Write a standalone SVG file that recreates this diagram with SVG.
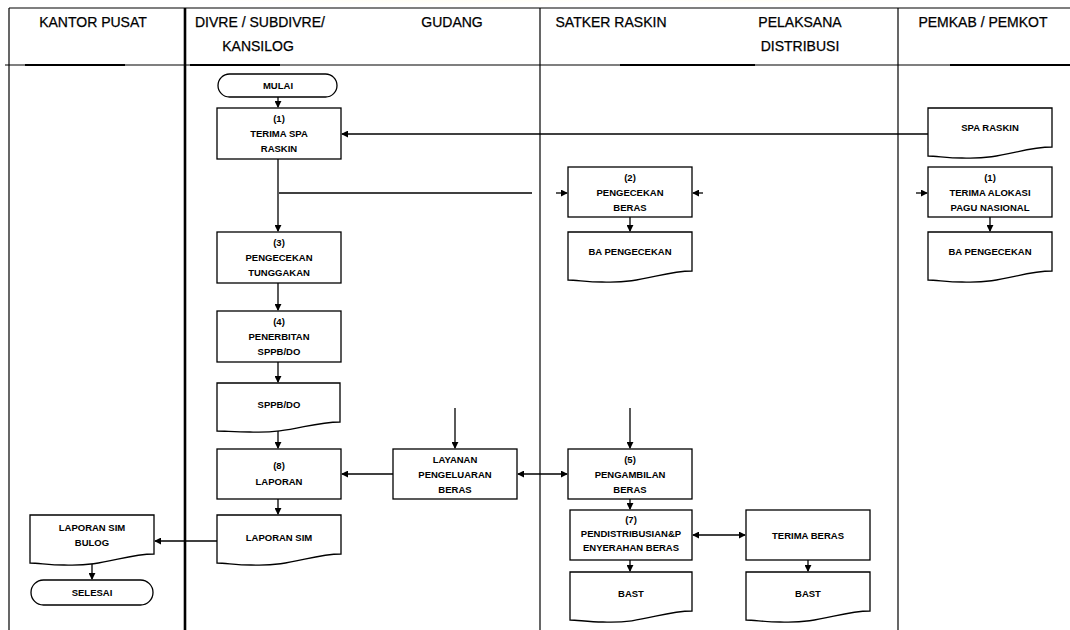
<svg xmlns="http://www.w3.org/2000/svg" width="1070" height="630" viewBox="0 0 1070 630">
<defs>
<radialGradient id="wm" cx="0.5" cy="0" r="0.6">
<stop offset="0" stop-color="#ffe94d" stop-opacity="0.75"/>
<stop offset="1" stop-color="#fff6b0" stop-opacity="0"/>
</radialGradient>
<marker id="ah" viewBox="0 0 8 8" refX="7" refY="4" markerWidth="7" markerHeight="7" orient="auto-start-reverse" markerUnits="userSpaceOnUse">
<path d="M0,0 L8,4 L0,8 Z" fill="#000"/>
</marker>
</defs>
<style>
.lane{stroke:#000;stroke-width:1.2;fill:none}
.thick{stroke:#000;stroke-width:2.6;fill:none}
.box{fill:#fff;stroke:#000;stroke-width:1.3}
.c{stroke:#000;stroke-width:1.3;fill:none}
.ca{stroke:#000;stroke-width:1.3;fill:none;marker-end:url(#ah)}
.cb{stroke:#000;stroke-width:1.3;fill:none;marker-end:url(#ah);marker-start:url(#ah)}
.h{font-family:"Liberation Sans",Arial,sans-serif;font-size:14px;fill:#000;stroke:#000;stroke-width:0.25}
.t{font-family:"Liberation Sans",Arial,sans-serif;font-size:9.5px;fill:#000;text-anchor:middle;font-weight:bold}
</style>
<rect width="1070" height="630" fill="#fff"/>
<ellipse cx="430" cy="0" rx="360" ry="26" fill="url(#wm)"/>
<ellipse cx="760" cy="0" rx="200" ry="18" fill="url(#wm)"/>

<g id="lanes">
<path class="lane" d="M9,8 H1070"/>
<path class="lane" d="M9,8 V630"/>
<path class="thick" d="M185,8 V630"/>
<path class="lane" d="M540,8 V630"/>
<path class="lane" d="M898,8 V630"/>
<path class="lane" d="M5,65 H1070"/>
<path class="thick" d="M25,65 H125 M190,65 H280 M620,65 H755 M950,65 H1070" style="stroke-width:2"/>
<text class="h" x="93" y="27" text-anchor="middle">KANTOR PUSAT</text>
<text class="h" x="195" y="27">DIVRE / SUBDIVRE/</text>
<text class="h" x="258" y="51" text-anchor="middle">KANSILOG</text>
<text class="h" x="452" y="27" text-anchor="middle">GUDANG</text>
<text class="h" x="611" y="27" text-anchor="middle">SATKER RASKIN</text>
<text class="h" x="800" y="27" text-anchor="middle">PELAKSANA</text>
<text class="h" x="800" y="51" text-anchor="middle">DISTRIBUSI</text>
<text class="h" x="983" y="27" text-anchor="middle">PEMKAB / PEMKOT</text>
</g>

<g id="connectors">
<path class="ca" d="M278,97 V107"/>
<path class="ca" d="M928,134 H342"/>
<path class="ca" d="M278,159 V231"/>
<path class="c" d="M279,193 H532"/>
<path class="ca" d="M556,193 H567"/>
<path class="ca" d="M703,193 H693"/>
<path class="ca" d="M916,193 H927"/>
<path class="ca" d="M630,217 V231"/>
<path class="ca" d="M990,217 V231"/>
<path class="ca" d="M278,283 V310"/>
<path class="ca" d="M278,362 V382"/>
<path class="ca" d="M278,431 V448"/>
<path class="ca" d="M393,474 H342"/>
<path class="ca" d="M455,408 V448"/>
<path class="cb" d="M518,474 H567"/>
<path class="ca" d="M630,408 V448"/>
<path class="ca" d="M630,499 V509"/>
<path class="ca" d="M630,560 V571"/>
<path class="cb" d="M693,535 H745"/>
<path class="ca" d="M808,560 V571"/>
<path class="ca" d="M278,499 V514"/>
<path class="ca" d="M217,541 H155"/>
<path class="ca" d="M92,563 V579"/>
</g>

<g id="mulai">
<rect class="box" x="218" y="74" width="119" height="23" rx="11.5"/>
<text class="t" x="278" y="89">MULAI</text>
</g>
<g id="n1-terima-spa">
<rect class="box" x="217" y="108" width="124" height="51"/>
<text class="t" x="279" y="122">(1)</text>
<text class="t" x="279" y="137">TERIMA SPA</text>
<text class="t" x="279" y="152">RASKIN</text>
</g>
<g id="n3-tunggakan">
<rect class="box" x="217" y="232" width="124" height="51"/>
<text class="t" x="279" y="246">(3)</text>
<text class="t" x="279" y="261">PENGECEKAN</text>
<text class="t" x="279" y="276">TUNGGAKAN</text>
</g>
<g id="n4-penerbitan">
<rect class="box" x="217" y="311" width="124" height="51"/>
<text class="t" x="279" y="325">(4)</text>
<text class="t" x="279" y="340">PENERBITAN</text>
<text class="t" x="279" y="355">SPPB/DO</text>
</g>
<g id="doc-sppb">
<path class="box" d="M217,383 H340 V422 C310,422 290,434 250,432 C235,432 225,431 217,431 Z"/>
<text class="t" x="279" y="408">SPPB/DO</text>
</g>
<g id="n8-laporan">
<rect class="box" x="217" y="449" width="124" height="50"/>
<text class="t" x="279" y="469">(8)</text>
<text class="t" x="279" y="485">LAPORAN</text>
</g>
<g id="doc-laporan-sim">
<path class="box" d="M217,515 H341 V554 C311,554 291,567 251,565 C236,565 226,563 217,563 Z"/>
<text class="t" x="279" y="541">LAPORAN SIM</text>
</g>
<g id="layanan">
<rect class="box" x="393" y="449" width="124" height="50"/>
<text class="t" x="455" y="463">LAYANAN</text>
<text class="t" x="455" y="478">PENGELUARAN</text>
<text class="t" x="455" y="493">BERAS</text>
</g>
<g id="n2-pengecekan-beras">
<rect class="box" x="568" y="167" width="124" height="50"/>
<text class="t" x="630" y="181">(2)</text>
<text class="t" x="630" y="196">PENGECEKAN</text>
<text class="t" x="630" y="211">BERAS</text>
</g>
<g id="doc-ba-satker">
<path class="box" d="M568,232 H692 V271 C662,271 642,284 602,282 C587,282 577,280 568,280 Z"/>
<text class="t" x="630" y="255">BA PENGECEKAN</text>
</g>
<g id="n5-pengambilan">
<rect class="box" x="568" y="449" width="124" height="50"/>
<text class="t" x="630" y="463">(5)</text>
<text class="t" x="630" y="478">PENGAMBILAN</text>
<text class="t" x="630" y="493">BERAS</text>
</g>
<g id="n7-pendistribusian">
<rect class="box" x="570" y="510" width="122" height="50"/>
<text class="t" x="631" y="523">(7)</text>
<text class="t" x="631" y="537">PENDISTRIBUSIAN&amp;P</text>
<text class="t" x="631" y="551">ENYERAHAN BERAS</text>
</g>
<g id="doc-bast-satker">
<path class="box" d="M570,572 H692 V611 C662,611 642,624 603,622 C588,622 578,620 570,620 Z"/>
<text class="t" x="631" y="597">BAST</text>
</g>
<g id="terima-beras">
<rect class="box" x="746" y="510" width="124" height="50"/>
<text class="t" x="808" y="539">TERIMA BERAS</text>
</g>
<g id="doc-bast-pelaksana">
<path class="box" d="M746,572 H870 V611 C840,611 820,624 780,622 C765,622 755,620 746,620 Z"/>
<text class="t" x="808" y="597">BAST</text>
</g>
<g id="doc-spa-raskin">
<path class="box" d="M928,108 H1052 V147 C1022,147 1002,160 962,158 C947,158 937,156 928,156 Z"/>
<text class="t" x="990" y="131">SPA RASKIN</text>
</g>
<g id="n1-terima-alokasi">
<rect class="box" x="928" y="167" width="124" height="50"/>
<text class="t" x="990" y="181">(1)</text>
<text class="t" x="990" y="196">TERIMA ALOKASI</text>
<text class="t" x="990" y="211">PAGU NASIONAL</text>
</g>
<g id="doc-ba-pemkab">
<path class="box" d="M928,232 H1052 V271 C1022,271 1002,284 962,282 C947,282 937,280 928,280 Z"/>
<text class="t" x="990" y="255">BA PENGECEKAN</text>
</g>
<g id="doc-laporan-sim-bulog">
<path class="box" d="M30,515 H154 V554 C124,554 104,567 64,565 C49,565 39,563 30,563 Z"/>
<text class="t" x="92" y="531">LAPORAN SIM</text>
<text class="t" x="92" y="546">BULOG</text>
</g>
<g id="selesai">
<rect class="box" x="31" y="580" width="122" height="25" rx="12.5"/>
<text class="t" x="92" y="596">SELESAI</text>
</g>
</svg>
